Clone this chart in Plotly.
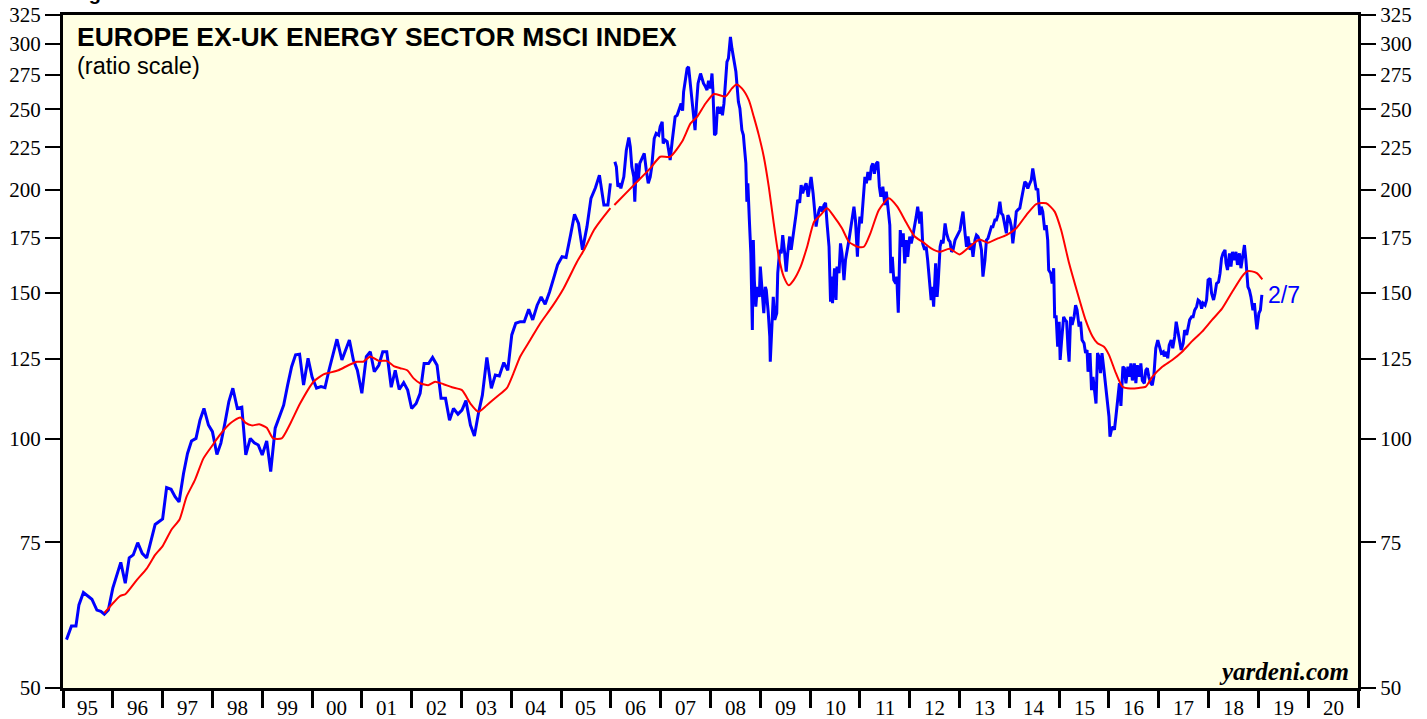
import math
import plotly.graph_objects as go

# ---------------- data ----------------
# Blue: Europe ex-UK Energy Sector MSCI index (monthly to 2005, weekly after)
blue_x = [
    1995.07, 1995.17, 1995.26, 1995.32, 1995.41, 1995.58, 1995.68, 1995.76, 1995.83, 1995.91,
    1996.00, 1996.16, 1996.25, 1996.33, 1996.41, 1996.50, 1996.59, 1996.68, 1996.85,
    1997.00, 1997.08, 1997.17, 1997.25, 1997.33, 1997.42, 1997.50, 1997.58, 1997.67, 1997.75, 1997.83, 1997.92,
    1998.00, 1998.09, 1998.17, 1998.25, 1998.33, 1998.41, 1998.50, 1998.59, 1998.67, 1998.76, 1998.84, 1998.92,
    1999.00, 1999.09, 1999.17, 1999.26, 1999.34, 1999.43, 1999.51, 1999.59, 1999.67, 1999.75, 1999.83, 1999.92,
    2000.00, 2000.09, 2000.18, 2000.26, 2000.34, 2000.42, 2000.50, 2000.60, 2000.75, 2000.83, 2000.91,
    2001.00, 2001.09, 2001.17, 2001.25, 2001.34, 2001.42, 2001.50, 2001.59, 2001.67, 2001.75, 2001.84, 2001.92,
    2002.00, 2002.09, 2002.17, 2002.25, 2002.34, 2002.42, 2002.51, 2002.59, 2002.68, 2002.76, 2002.84, 2002.93,
    2003.01, 2003.09, 2003.18, 2003.26, 2003.34, 2003.42, 2003.51, 2003.60, 2003.68, 2003.76, 2003.85, 2003.93,
    2004.01, 2004.09, 2004.18, 2004.26, 2004.35, 2004.43, 2004.52, 2004.60, 2004.68, 2004.77, 2004.85, 2004.93,
    2005.02, 2005.10, 2005.19, 2005.27, 2005.35, 2005.43, 2005.52, 2005.60, 2005.69, 2005.77, 2005.86, 2005.94, 2005.99,
    2006.04,
    2006.08, 2006.11, 2006.14, 2006.18, 2006.20, 2006.26, 2006.31, 2006.36, 2006.39, 2006.42, 2006.46, 2006.48,
    2006.51, 2006.55, 2006.58, 2006.63, 2006.67, 2006.71, 2006.75, 2006.79, 2006.82, 2006.87, 2006.91, 2006.96, 2006.99,
    2007.03, 2007.05, 2007.09, 2007.13, 2007.16, 2007.19, 2007.23, 2007.26, 2007.29, 2007.33, 2007.37, 2007.41, 2007.44,
    2007.46, 2007.50, 2007.53, 2007.56, 2007.60, 2007.63, 2007.67, 2007.69, 2007.72, 2007.75, 2007.80, 2007.83, 2007.86,
    2007.90, 2007.93, 2007.96, 2008.00, 2008.03, 2008.05, 2008.08, 2008.11, 2008.14, 2008.18, 2008.21, 2008.24, 2008.27,
    2008.31, 2008.33, 2008.36, 2008.38, 2008.40, 2008.43, 2008.46, 2008.49, 2008.51, 2008.56, 2008.59, 2008.63, 2008.66,
    2008.68, 2008.71, 2008.73, 2008.75, 2008.78, 2008.81, 2008.84, 2008.86, 2008.88, 2008.91, 2008.94, 2008.98,
    2009.00, 2009.03, 2009.07, 2009.10, 2009.12, 2009.16, 2009.19, 2009.20, 2009.23, 2009.26, 2009.29, 2009.33, 2009.35,
    2009.39, 2009.42, 2009.45, 2009.49, 2009.52, 2009.55, 2009.59, 2009.62, 2009.65, 2009.69, 2009.72, 2009.75, 2009.79,
    2009.82, 2009.85, 2009.89, 2009.92, 2009.96, 2009.99, 2010.02, 2010.06, 2010.09, 2010.12, 2010.14, 2010.18, 2010.21,
    2010.24, 2010.28, 2010.31, 2010.34, 2010.38, 2010.41, 2010.43, 2010.45, 2010.49, 2010.52, 2010.54, 2010.58, 2010.61,
    2010.64, 2010.68, 2010.71, 2010.75, 2010.78, 2010.81, 2010.85, 2010.88, 2010.91, 2010.95, 2010.97, 2011.00, 2011.03,
    2011.07, 2011.10, 2011.13, 2011.16, 2011.20, 2011.23, 2011.26, 2011.29, 2011.33, 2011.36, 2011.39, 2011.42, 2011.46,
    2011.50, 2011.53, 2011.56, 2011.60, 2011.62, 2011.65, 2011.68, 2011.72, 2011.74, 2011.77, 2011.81, 2011.84, 2011.87,
    2011.90, 2011.93, 2011.96, 2012.00, 2012.03, 2012.06, 2012.10, 2012.13, 2012.16, 2012.20, 2012.23, 2012.26, 2012.30,
    2012.33, 2012.36, 2012.39, 2012.43, 2012.45, 2012.48, 2012.52, 2012.55, 2012.57, 2012.61, 2012.64, 2012.67, 2012.71,
    2012.74, 2012.78, 2012.81, 2012.84, 2012.87, 2012.91, 2012.94, 2012.97, 2013.01, 2013.04, 2013.07, 2013.11, 2013.14,
    2013.17, 2013.21, 2013.24, 2013.27, 2013.31, 2013.34, 2013.37, 2013.41, 2013.44, 2013.47, 2013.51, 2013.54, 2013.57,
    2013.61, 2013.64, 2013.67, 2013.71, 2013.74, 2013.77, 2013.81, 2013.84, 2013.87, 2013.91, 2013.94, 2013.97, 2014.01,
    2014.04, 2014.07, 2014.11, 2014.14, 2014.17, 2014.21, 2014.24, 2014.27, 2014.31, 2014.34, 2014.37, 2014.41, 2014.44,
    2014.47, 2014.51, 2014.54, 2014.57, 2014.61, 2014.64, 2014.67, 2014.71, 2014.74, 2014.77, 2014.79, 2014.83, 2014.86,
    2014.89, 2014.91, 2014.94, 2014.97, 2015.00, 2015.02, 2015.05, 2015.09, 2015.12, 2015.15, 2015.18, 2015.20, 2015.23,
    2015.26, 2015.30, 2015.33, 2015.36, 2015.40, 2015.43, 2015.46, 2015.50, 2015.53, 2015.56, 2015.58, 2015.62, 2015.65,
    2015.68, 2015.72, 2015.74, 2015.77, 2015.80, 2015.83, 2015.86, 2015.90, 2015.93, 2015.96, 2016.00, 2016.02, 2016.05,
    2016.08, 2016.11, 2016.14, 2016.18, 2016.21, 2016.24, 2016.28, 2016.31, 2016.34, 2016.38, 2016.41, 2016.44, 2016.47,
    2016.51, 2016.54, 2016.57, 2016.61, 2016.64, 2016.67, 2016.71, 2016.74, 2016.77, 2016.80, 2016.84, 2016.87, 2016.90,
    2016.94, 2016.98, 2017.02, 2017.05, 2017.09, 2017.11, 2017.15, 2017.18, 2017.21, 2017.25, 2017.28, 2017.32, 2017.35,
    2017.39, 2017.42, 2017.45, 2017.49, 2017.52, 2017.56, 2017.59, 2017.62, 2017.66, 2017.69, 2017.72, 2017.76, 2017.79,
    2017.83, 2017.86, 2017.89, 2017.93, 2017.96, 2017.99, 2018.03, 2018.06, 2018.10, 2018.13, 2018.16, 2018.20, 2018.23,
    2018.26, 2018.29, 2018.33, 2018.35, 2018.38, 2018.42, 2018.45, 2018.48, 2018.52, 2018.55, 2018.58, 2018.62, 2018.65,
    2018.69, 2018.72, 2018.75, 2018.79, 2018.82, 2018.85, 2018.89, 2018.92, 2018.95, 2018.97, 2019.01, 2019.04, 2019.07,
]
blue_y = [
    57.2, 59.4, 59.4, 63.0, 65.2, 64.0, 62.1, 61.9, 61.4, 62.1,
    66.0, 70.9, 66.9, 71.8, 72.4, 74.9, 72.7, 71.8, 78.8,
    80.0, 87.3, 86.9, 85.1, 83.9, 90.8, 96.0, 99.4, 100.1, 105.3, 108.8, 103.9,
    102.0, 95.7, 98.8, 104.4, 110.9, 115.1, 108.8, 109.2, 95.6, 100.1, 98.9, 98.3,
    95.6, 99.4, 91.3, 103.0, 105.9, 109.8, 116.1, 122.2, 126.3, 126.5, 116.1, 125.1,
    118.8, 115.1, 115.6, 115.3, 121.0, 126.9, 131.9, 124.5, 131.6, 124.5, 121.0,
    113.5, 125.7, 127.4, 120.5, 122.7, 127.4, 127.4, 115.4, 121.0, 114.7, 116.9, 114.5,
    108.8, 110.3, 113.5, 123.3, 123.3, 125.4, 122.7, 111.9, 111.9, 105.3, 108.8, 107.1,
    108.3, 111.2, 103.9, 100.8, 107.3, 112.9, 125.4, 115.1, 119.4, 119.1, 123.6, 121.0,
    133.5, 137.9, 138.5, 138.5, 143.4, 139.2, 145.0, 148.4, 145.4, 150.5, 156.2, 162.2,
    165.9, 165.6, 176.2, 186.7, 182.0, 169.1, 180.4, 195.2, 201.0, 208.2, 191.6, 191.6, 203.5,
    None,
    216.1, 213.1, 201.6, 203.5, 200.6, 207.2, 223.1, 231.2, 225.2, 213.1, 207.2, 193.3,
    215.1, 205.3, 215.1, 218.7, 221.2, 211.2, 203.5, 207.2, 213.1, 230.5, 233.8, 232.7, 238.2,
    241.5, 227.4, 229.5, 228.6, 223.1, 217.1, 228.6, 238.2, 244.8, 245.9, 250.6, 254.1, 249.0,
    262.5, 272.4, 280.1, 281.4, 266.2, 254.1, 240.4, 236.0, 254.1, 268.7, 276.2, 272.4, 268.7,
    266.2, 263.8, 270.7, 265.0, 276.2, 262.5, 232.7, 233.8, 251.8, 247.1, 251.8, 245.9, 254.1,
    276.2, 285.3, 288.0, 297.5, 305.8, 296.2, 289.4, 281.4, 277.5, 255.3, 250.6, 236.0, 232.7,
    225.2, 215.1, 193.3, 203.5, 183.8, 167.5, 135.3, 173.8, 155.5, 144.4, 152.6, 148.4,
    161.4, 154.0, 141.8, 152.6, 151.2, 141.8, 132.9, 123.9, 134.1, 148.4, 139.2, 141.8, 158.5,
    169.1, 167.5, 176.2, 167.5, 159.2, 167.5, 175.5, 169.1, 173.8, 182.0, 187.2, 194.3, 192.8,
    202.5, 197.9, 201.6, 203.5, 196.0, 201.6, 207.2, 197.9, 189.0, 180.4, 183.8, 189.0, 190.7,
    188.1, 191.6, 192.8, 182.0, 170.6, 146.4, 157.0, 145.8, 160.7, 147.1, 161.4, 158.5, 172.2,
    167.5, 155.5, 164.4, 169.1, 173.8, 178.7, 187.2, 190.7, 183.8, 165.9, 177.1, 185.5, 182.0,
    197.9, 207.2, 203.5, 210.1, 205.3, 213.1, 215.1, 209.0, 215.1, 216.1, 201.6, 196.0, 201.6,
    191.6, 198.8, 190.7, 181.2, 158.5, 165.9, 155.5, 154.0, 157.0, 142.0, 178.7, 170.6, 177.1,
    162.9, 173.8, 165.9, 175.5, 172.2, 175.5, 180.4, 185.5, 190.7, 182.0, 188.1, 172.2, 169.1,
    170.6, 164.4, 154.7, 147.1, 152.6, 144.4, 162.9, 148.4, 154.0, 170.6, 173.8, 172.2, 182.0,
    177.1, 173.8, 172.9, 168.2, 169.1, 173.8, 175.5, 177.1, 178.7, 183.8, 188.1, 177.1, 170.6,
    175.5, 169.1, 172.2, 165.9, 173.8, 176.2, 175.5, 172.9, 169.1, 157.0, 164.4, 173.8, 174.6,
    177.9, 180.4, 180.4, 183.8, 183.8, 186.3, 193.3, 187.2, 186.3, 180.4, 177.1, 186.3, 183.8,
    180.4, 172.2, 180.4, 188.1, 189.0, 189.9, 194.3, 197.9, 204.4, 203.5, 200.6, 203.5, 205.3,
    212.1, 205.3, 199.8, 200.6, 186.3, 190.7, 188.1, 178.7, 181.2, 173.8, 159.9, 158.5, 154.0,
    160.7, 140.4, 140.4, 129.2, 138.5, 124.5, 131.6, 140.4, 139.2, 138.5, 128.0, 123.9, 140.4,
    137.3, 140.4, 145.0, 143.0, 136.6, 138.5, 131.6, 130.4, 126.9, 128.0, 120.5, 126.9, 114.5,
    118.8, 111.4, 110.3, 126.9, 125.7, 120.0, 126.9, 121.0, 116.7, 112.4, 106.4, 100.6, 102.5,
    103.4, 102.5, 106.4, 113.5, 116.7, 109.6, 122.2, 121.7, 116.7, 122.2, 118.8, 123.3, 117.6,
    123.3, 116.7, 122.7, 118.8, 123.3, 117.6, 116.7, 121.0, 121.7, 118.8, 116.7, 116.1, 118.8,
    128.6, 131.6, 128.6, 126.9, 127.4, 125.7, 127.4, 125.1, 129.8, 131.6, 128.6, 132.9, 138.5,
    134.1, 131.6, 128.0, 130.4, 135.3, 133.5, 136.6, 139.2, 140.4, 140.4, 143.0, 144.4, 147.1,
    146.4, 143.6, 145.8, 145.0, 147.1, 155.5, 156.2, 149.9, 147.1, 149.9, 154.0, 154.7, 158.5,
    165.2, 167.5, 169.1, 163.0, 159.9, 167.5, 161.4, 168.2, 164.4, 168.2, 162.2, 167.5, 160.7,
    165.9, 171.4, 164.4, 152.6, 151.2, 148.4, 143.0, 145.8, 139.2, 135.6, 141.8, 143.0, 149.2,
]

# Red: moving average of the index
red_x = [
    1995.83, 1996.15, 1996.25, 1996.48, 1996.68, 1996.85, 1997.00, 1997.18, 1997.34, 1997.48,
    1997.65, 1997.82, 1997.99, 1998.15, 1998.36, 1998.56, 1998.66, 1998.79, 1998.94, 1999.09,
    1999.22, 1999.39, 1999.56, 1999.76, 2000.03, 2000.23, 2000.36, 2000.53, 2000.73, 2000.90,
    2001.03, 2001.17, 2001.34, 2001.50, 2001.64, 2001.77, 2001.91, 2002.04, 2002.17, 2002.34,
    2002.47, 2002.64, 2002.81, 2003.01, 2003.18, 2003.34, 2003.51, 2003.71, 2003.91, 2004.04,
    2004.18, 2004.38, 2004.58, 2004.82, 2005.05, 2005.32, 2005.46, 2005.66, 2005.79, 2005.99,
    2006.03,
    2006.07, 2006.46, 2006.79, 2006.99, 2007.19, 2007.43, 2007.60, 2007.73, 2007.90, 2008.07,
    2008.30, 2008.43, 2008.52, 2008.63, 2008.77, 2008.87, 2008.97, 2009.07, 2009.17, 2009.27,
    2009.37, 2009.47, 2009.57, 2009.67, 2009.81, 2009.94, 2010.08, 2010.21, 2010.34, 2010.48,
    2010.64, 2010.78, 2010.95, 2011.08, 2011.21, 2011.38, 2011.58, 2011.75, 2011.92, 2012.10,
    2012.26, 2012.43, 2012.60, 2012.80, 2013.00, 2013.20, 2013.40, 2013.57, 2013.77, 2013.94,
    2014.14, 2014.34, 2014.54, 2014.74, 2014.91, 2015.04, 2015.20, 2015.37, 2015.53, 2015.67,
    2015.77, 2015.90, 2016.00, 2016.14, 2016.27, 2016.43, 2016.60, 2016.74, 2016.87, 2017.07,
    2017.27, 2017.47, 2017.67, 2017.87, 2018.07, 2018.27, 2018.47, 2018.67, 2018.77, 2018.87,
    2018.97, 2019.08,
]
red_y = [
    61.6, 64.6, 64.9, 67.5, 69.7, 72.4, 74.2, 77.7, 79.9, 85.1,
    89.2, 94.7, 98.0, 101.1, 104.4, 106.1, 104.6, 103.8, 104.1, 103.1,
    100.1, 100.1, 104.2, 110.3, 117.2, 119.6, 120.2, 121.0, 122.7, 123.9,
    123.9, 125.7, 124.2, 124.2, 122.4, 121.7, 121.0, 118.3, 116.7, 116.1,
    117.2, 116.4, 115.4, 114.5, 110.3, 107.8, 109.8, 112.4, 115.1, 119.8,
    125.7, 131.6, 137.8, 144.4, 151.9, 163.6, 169.1, 178.7, 183.3, 189.9,
    None,
    191.6, 202.5, 212.1, 219.1, 219.1, 228.6, 240.4, 244.8, 254.1, 260.9,
    259.1, 265.0, 267.9, 265.0, 256.5, 244.8, 232.7, 219.1, 201.6, 182.0,
    165.9, 157.0, 153.3, 155.5, 161.4, 170.6, 182.9, 186.3, 189.9, 185.5,
    179.6, 172.9, 170.6, 170.6, 177.1, 189.0, 195.2, 190.7, 182.9, 175.5,
    172.9, 169.8, 168.2, 169.6, 167.0, 170.6, 174.1, 172.5, 174.6, 176.2,
    179.6, 186.3, 192.1, 192.5, 188.1, 178.7, 162.9, 149.9, 139.2, 132.9,
    130.4, 129.2, 126.3, 120.0, 115.6, 115.0, 115.2, 115.6, 118.8, 122.2,
    124.5, 127.4, 131.2, 134.7, 139.2, 143.6, 150.3, 157.0, 159.3, 159.3,
    158.5, 155.8,
]

y_ticks = [50, 75, 100, 125, 150, 175, 200, 225, 250, 275, 300, 325]
year_ticks = list(range(1995, 2022))
year_labels = ["95", "96", "97", "98", "99", "00", "01", "02", "03", "04", "05", "06", "07",
               "08", "09", "10", "11", "12", "13", "14", "15", "16", "17", "18", "19", "20"]

title_text = "EUROPE EX-UK ENERGY SECTOR MSCI INDEX"
subtitle_text = "(ratio scale)"
last_label = "2/7"
source_text = "yardeni.com"
header_text = "Figure"

# ---------------- figure ----------------
fig = go.Figure()
fig.add_trace(go.Scatter(x=blue_x, y=blue_y, mode="lines", yaxis="y",
                         line=dict(color="#0000FF", width=3), connectgaps=False,
                         hoverinfo="skip", showlegend=False))
fig.add_trace(go.Scatter(x=red_x, y=red_y, mode="lines", yaxis="y2",
                         line=dict(color="#FF0000", width=2, shape="spline", smoothing=0.6),
                         connectgaps=False, hoverinfo="skip", showlegend=False))

yrange = [math.log10(y_ticks[0]), math.log10(y_ticks[-1])]
serif = "Liberation Serif, Times New Roman, serif"
sans = "Liberation Sans, Arial, sans-serif"

yaxis_common = dict(
    type="log", range=yrange, tickvals=y_ticks, ticktext=[str(v) for v in y_ticks],
    ticks="outside", ticklen=15, tickwidth=1.5, tickcolor="black",
    tickfont=dict(family=serif, size=21, color="black"),
    showgrid=False, zeroline=False, showline=True, linecolor="black", linewidth=3,
    fixedrange=True, automargin=False,
)

fig.update_layout(
    width=1427, height=719,
    margin=dict(l=63, r=69, t=15, b=31, autoexpand=False),
    paper_bgcolor="white",
    plot_bgcolor="#FFFFE3",
    xaxis=dict(range=[year_ticks[0], year_ticks[-1]], tickvals=year_ticks,
               showticklabels=False, ticks="outside", ticklen=17, tickwidth=2.5,
               tickcolor="black", showgrid=False, zeroline=False, showline=True,
               linecolor="black", linewidth=3, mirror=True, automargin=False),
    yaxis=dict(side="left", mirror=True, **yaxis_common),
    yaxis2=dict(side="right", overlaying="y", **yaxis_common),
)

annotations = []
for i, lab in enumerate(year_labels):
    annotations.append(dict(x=year_ticks[i] + 0.5, y=0, xref="x", yref="paper",
                            text=lab, showarrow=False, yanchor="middle", yshift=-20,
                            font=dict(family=serif, size=21, color="black")))
annotations.append(dict(x=0, y=1, xref="paper", yref="paper", xanchor="left", yanchor="top",
                        xshift=12, yshift=-5, text="<b>" + title_text + "</b>", showarrow=False,
                        font=dict(family=sans, size=26.5, color="black")))
annotations.append(dict(x=0, y=1, xref="paper", yref="paper", xanchor="left", yanchor="top",
                        xshift=12, yshift=-36, text=subtitle_text, showarrow=False,
                        font=dict(family=sans, size=23.5, color="black")))
annotations.append(dict(x=1, y=0, xref="paper", yref="paper", xanchor="right", yanchor="bottom",
                        xshift=-7, yshift=1, text="<b><i>" + source_text + "</i></b>", showarrow=False,
                        font=dict(family=serif, size=25, color="black")))
annotations.append(dict(x=blue_x[-1], y=math.log10(blue_y[-1]), xref="x", yref="y",
                        xanchor="left", yanchor="middle", xshift=4, text=last_label,
                        showarrow=False, font=dict(family=sans, size=23, color="#0000FF")))
annotations.append(dict(x=0, y=1, xref="paper", yref="paper", xanchor="left", yanchor="bottom",
                        xshift=6, yshift=9, text="<b>" + header_text + "</b>", showarrow=False,
                        font=dict(family=sans, size=20, color="black")))
fig.update_layout(annotations=annotations)

fig.write_html(
    "out.html",
    config={"displayModeBar": False},
    post_script="document.body.style.margin='0px';document.body.style.overflow='hidden';",
)
